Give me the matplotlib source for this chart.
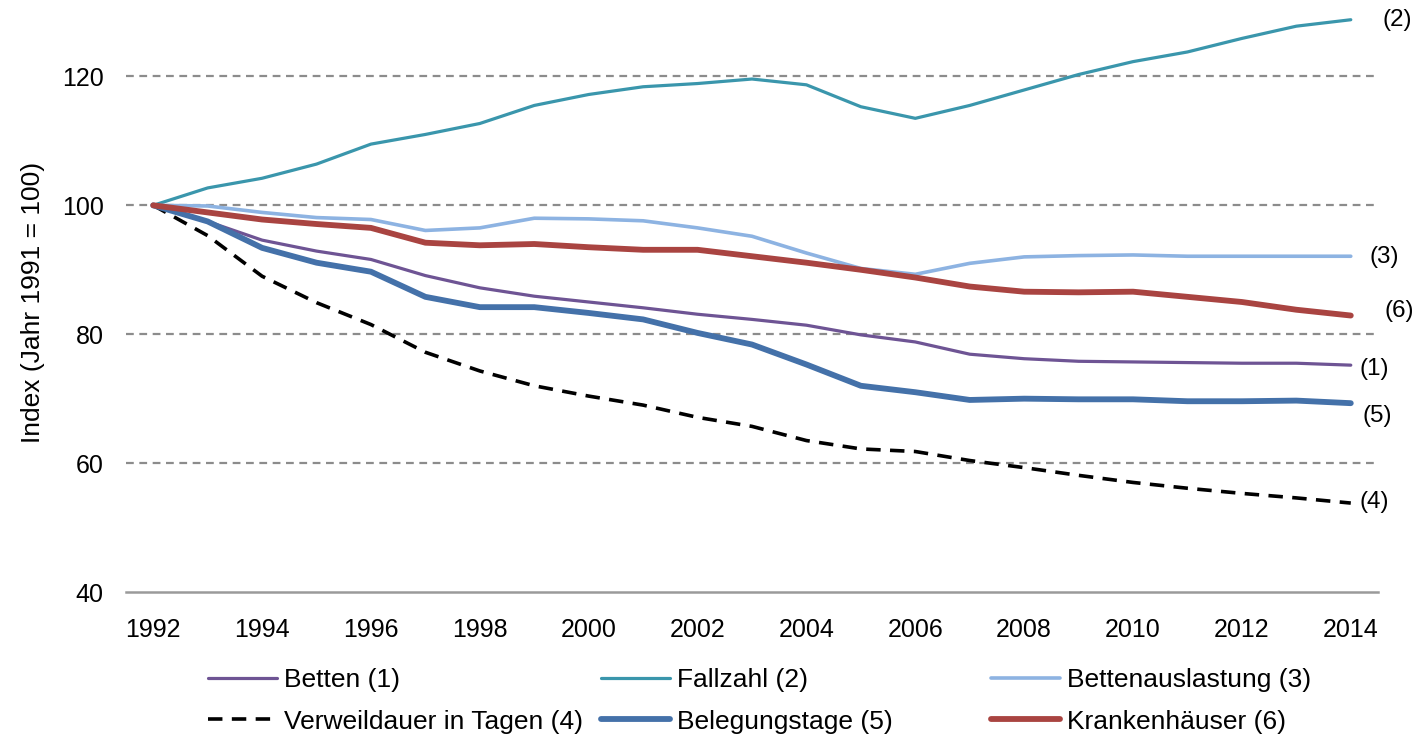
import matplotlib
matplotlib.use("Agg")
import matplotlib.pyplot as plt

plt.rcParams['font.family'] = ['Liberation Sans', 'DejaVu Sans']

years = list(range(1992, 2015))

betten = [100, 97.5, 94.6, 92.9, 91.6, 89.1, 87.2, 85.9, 85.0, 84.1, 83.1, 82.3,
          81.4, 79.9, 78.8, 76.9, 76.2, 75.8, 75.7, 75.6, 75.5, 75.5, 75.2]
fallzahl = [100, 102.7, 104.2, 106.4, 109.5, 111.0, 112.7, 115.5, 117.2, 118.4, 118.9, 119.6,
            118.7, 115.3, 113.5, 115.5, 117.9, 120.3, 122.3, 123.8, 125.9, 127.8, 128.8]
bettenauslastung = [100, 99.9, 98.9, 98.1, 97.8, 96.1, 96.5, 98.0, 97.9, 97.6, 96.5, 95.2,
                    92.6, 90.2, 89.3, 91.0, 92.0, 92.2, 92.3, 92.1, 92.1, 92.1, 92.1]
verweildauer = [100, 95.3, 89.0, 84.9, 81.5, 77.2, 74.3, 72.0, 70.4, 69.0, 67.1, 65.7,
                63.5, 62.2, 61.8, 60.4, 59.3, 58.1, 57.0, 56.1, 55.3, 54.6, 53.8]
belegungstage = [100, 97.5, 93.4, 91.1, 89.7, 85.8, 84.2, 84.2, 83.3, 82.3, 80.2, 78.4,
                 75.3, 72.0, 71.0, 69.8, 70.0, 69.9, 69.9, 69.6, 69.6, 69.7, 69.3]
krankenhaeuser = [100, 98.9, 97.8, 97.1, 96.5, 94.2, 93.8, 94.0, 93.5, 93.1, 93.1, 92.1,
                  91.1, 90.0, 88.8, 87.4, 86.6, 86.5, 86.6, 85.8, 85.0, 83.8, 82.9]

labels = ["Betten (1)", "Fallzahl (2)", "Bettenauslastung (3)",
          "Verweildauer in Tagen (4)", "Belegungstage (5)", "Krankenhäuser (6)"]
end_labels = ["(1)", "(2)", "(3)", "(4)", "(5)", "(6)"]
xticks = list(range(1992, 2015, 2))
yticks = [40, 60, 80, 100, 120]
ylabel = "Index (Jahr 1991 = 100)"

fig = plt.figure(figsize=(14.16, 7.4), dpi=100)
W, H = 1416, 740
ax = fig.add_axes([126 / W, 1 - 592 / H, (1378 - 126) / W, (592 - 12) / H])

styles = {
    0: dict(color="#6E5494", lw=2.3, ls="-"),
    1: dict(color="#3A96AC", lw=2.3, ls="-"),
    2: dict(color="#8DB3E2", lw=2.6, ls="-"),
    3: dict(color="#000000", lw=2.6, ls=(0, (4, 2.6))),
    4: dict(color="#4471A9", lw=4.2, ls="-"),
    5: dict(color="#A94441", lw=4.2, ls="-"),
}
series = [betten, fallzahl, bettenauslastung, verweildauer, belegungstage, krankenhaeuser]
zorders = [3, 3, 3, 4, 5, 6]
handles = []
for i, s in enumerate(series):
    st = styles[i]
    h, = ax.plot(years, s, color=st["color"], lw=st["lw"], linestyle=st["ls"],
                 solid_capstyle="round", dash_capstyle="butt", zorder=zorders[i],
                 label=labels[i])
    handles.append(h)

# end labels (offsets in pixels)
offsets = {0: (9, -4), 1: (32, 0), 2: (19, -1), 3: (9, 1), 4: (12, -13), 5: (34, 5)}
for i, s in enumerate(series):
    dx, dy = offsets[i]
    ax.annotate(end_labels[i], xy=(years[-1], s[-1]), xytext=(dx, dy),
                textcoords="offset pixels", ha="left", va="center", fontsize=17.5,
                color="#000000")

ax.set_xlim(1991.5, 2014.5)
ax.set_ylim(40, 130)
ax.set_xticks(xticks)
ax.set_xticklabels([str(x) for x in xticks])
ax.set_yticks(yticks)
ax.tick_params(axis="both", length=0, labelsize=18)
ax.tick_params(axis="x", pad=19)
ax.tick_params(axis="y", pad=16)
for y in yticks[1:]:
    ax.axhline(y, color="#8C8C8C", lw=1.6, ls=(0, (3.5, 2.5)), zorder=1)
for sp in ["top", "right", "left"]:
    ax.spines[sp].set_visible(False)
ax.spines["bottom"].set_color("#9A9A9A")
ax.spines["bottom"].set_linewidth(1.8)
ax.set_ylabel(ylabel, fontsize=19, labelpad=12)

# legend in three equal-width columns
col_x = [208, 601, 991]
for c in range(3):
    hs = [handles[c], handles[c + 3]]
    ls_ = [labels[c], labels[c + 3]]
    fig.legend(hs, ls_, loc="upper left", bbox_to_anchor=(col_x[c] / W, 1 - 668 / H),
               frameon=False, fontsize=19, handlelength=2.6, handletextpad=0.27,
               labelspacing=0.67, borderpad=0, borderaxespad=0)

fig.savefig("out.png", dpi=100)
